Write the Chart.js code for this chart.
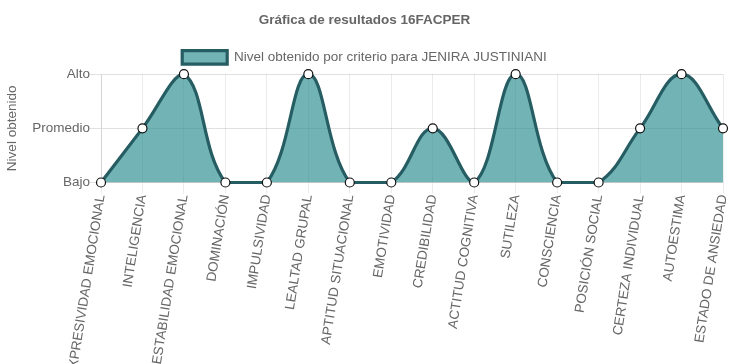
<!DOCTYPE html>
<html lang="es">
<head>
    <meta charset="UTF-8">
    <title>Gráfica de resultados 16FACPER</title>
    <script src="https://cdn.jsdelivr.net/npm/chart.js"></script>
    <style>
        html, body { margin: 0; padding: 0; background: #fff; }
        #wrap { width: 729px; height: 364px; }
    </style>
</head>
<body>
<div id="wrap">
    <canvas id="resultChart" width="729" height="364"></canvas>
</div>

<script>
    // Criterios evaluados
    const criterios = [
        'EXPRESIVIDAD EMOCIONAL', 'INTELIGENCIA', 'ESTABILIDAD EMOCIONAL', 'DOMINACIÓN',
        'IMPULSIVIDAD', 'LEALTAD GRUPAL', 'APTITUD SITUACIONAL', 'EMOTIVIDAD',
        'CREDIBILIDAD', 'ACTITUD COGNITIVA', 'SUTILEZA', 'CONSCIENCIA',
        'POSICIÓN SOCIAL', 'CERTEZA INDIVIDUAL', 'AUTOESTIMA', 'ESTADO DE ANSIEDAD'
    ];

    // 0 = Bajo, 1 = Promedio, 2 = Alto
    const niveles = [0, 1, 2, 0, 0, 2, 0, 0, 1, 0, 2, 0, 0, 1, 2, 1];

    const nivelLabels = ['Bajo', 'Promedio', 'Alto'];

    Chart.defaults.font.family = '"Liberation Sans", Arial, Helvetica, sans-serif';
    Chart.defaults.font.size = 13.5;
    Chart.defaults.color = '#666';

    const ctx = document.getElementById('resultChart').getContext('2d');
    const resultChart = new Chart(ctx, {
        type: 'line',
        data: {
            labels: criterios,
            datasets: [{
                label: 'Nivel obtenido por criterio para JENIRA JUSTINIANI',
                data: niveles,
                backgroundColor: 'rgba(38, 140, 143, 0.65)',
                borderColor: '#255d63',
                borderWidth: 3.2,
                fill: 'origin',
                tension: 0.4,
                clip: false,
                pointRadius: 4.5,
                pointBackgroundColor: '#fff',
                pointBorderColor: '#111',
                pointBorderWidth: 1.2
            }]
        },
        options: {
            responsive: false,
            animation: false,
            layout: { padding: { top: 1 } },
            plugins: {
                title: {
                    display: true,
                    text: 'Gráfica de resultados 16FACPER',
                    font: { weight: 'bold', size: 13.5 },
                    padding: { top: 11, bottom: 11 }
                },
                legend: {
                    position: 'top',
                    labels: {
                        boxWidth: 45,
                        boxHeight: 13.5,
                        padding: 11.5
                    }
                },
                tooltip: { enabled: false }
            },
            scales: {
                x: {
                    grid: { color: 'rgba(0,0,0,0.08)', tickLength: 11 },
                    ticks: {
                        minRotation: 81,
                        maxRotation: 81,
                        autoSkip: false,
                        padding: 0
                    },
                    afterFit: function(scale) {
                        scale.paddingRight = 6;
                    }
                },
                y: {
                    min: 0,
                    max: 2,
                    title: { display: true, text: 'Nivel obtenido' },
                    grid: { color: 'rgba(0,0,0,0.12)', tickLength: 11 },
                    ticks: {
                        stepSize: 1,
                        padding: 0,
                        callback: function(value) {
                            return nivelLabels[value];
                        }
                    },
                    afterFit: function(scale) {
                        scale.width = 101;
                    }
                }
            }
        }
    });
</script>
</body>
</html>
